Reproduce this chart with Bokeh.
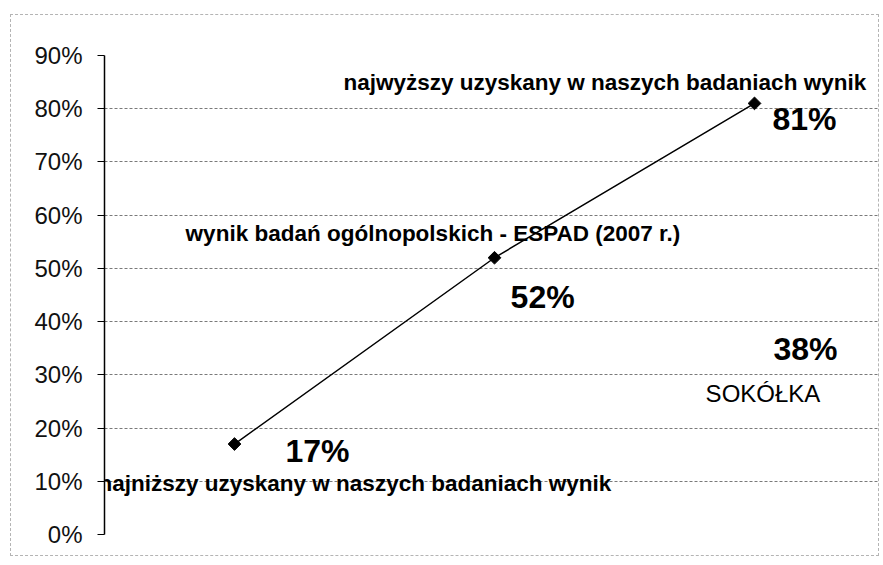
import math
from bokeh.plotting import figure
from bokeh.models import ColumnDataSource, Label, FixedTicker, NumeralTickFormatter, Range1d
from bokeh.embed import file_html
from bokeh.resources import INLINE

# ---- data ----
categories = [1, 2, 3]                 # lowest, national (ESPAD), highest
values = [0.17, 0.52, 0.81]
sokolka_value = 0.38
sokolka_name = "SOKÓŁKA"
y_ticks = [0.0, 0.1, 0.2, 0.3, 0.4, 0.5, 0.6, 0.7, 0.8, 0.9]
notes = [
    "najniższy uzyskany w naszych badaniach wynik",
    "wynik badań ogólnopolskich - ESPAD (2007 r.)",
    "najwyższy uzyskany w naszych badaniach wynik",
]

# ---- layout constants (anchor = left / baseline, data units) ----
note_pos = [(0.477, 0.096), (0.812, 0.566), (1.419, 0.849)]
value_pos = [(1.196, 0.156), (2.062, 0.447), (3.069, 0.780)]
sokolka_value_pos = (3.073, 0.349)
sokolka_name_pos = (2.812, 0.265)

FONT = "Liberation Sans"

p = figure(width=869, height=542, output_backend="svg", toolbar_location=None,
           x_range=Range1d(0.5, 3.4846), y_range=Range1d(0, 0.9),
           min_border_left=93, min_border_right=0, min_border_top=40,
           min_border_bottom=23)
p.margin = (14, 0, 0, 10)
p.styles = {"border": "1px dashed #b4b4b4"}
p.background_fill_color = "white"
p.border_fill_color = "white"
p.outline_line_color = None

p.xaxis.visible = False
p.xgrid.visible = False

p.yaxis.ticker = FixedTicker(ticks=y_ticks)
p.yaxis.formatter = NumeralTickFormatter(format="0%")
p.yaxis.axis_line_color = "black"
p.yaxis.axis_line_width = 1.5
p.yaxis.major_tick_line_color = "black"
p.yaxis.major_tick_in = 0
p.yaxis.major_tick_out = 7
p.yaxis.minor_tick_line_color = None
p.yaxis.major_label_standoff = 15
p.yaxis.major_label_text_font = FONT
p.yaxis.major_label_text_font_size = "24px"
p.yaxis.major_label_text_color = "#111111"

p.ygrid.ticker = FixedTicker(ticks=y_ticks)
p.ygrid.grid_line_color = "#7a7a7a"
p.ygrid.grid_line_dash = "3 2"
p.ygrid.grid_line_width = 1

src = ColumnDataSource(dict(x=categories, y=values))
p.line("x", "y", source=src, line_color="black", line_width=1.5)
p.scatter("x", "y", source=src, marker="square", angle=math.pi / 4,
          size=9, fill_color="black", line_color="black")

for txt, (x, y) in zip(notes, note_pos):
    p.add_layout(Label(x=x, y=y, text=txt, text_font=FONT, text_font_size="22.5px",
                       text_font_style="bold", text_color="black",
                       text_align="left", text_baseline="alphabetic"))

for v, (x, y) in zip(values, value_pos):
    p.add_layout(Label(x=x, y=y, text=f"{round(v * 100)}%", text_font=FONT,
                       text_font_size="32px", text_font_style="bold",
                       text_color="black", text_align="left",
                       text_baseline="alphabetic"))

p.add_layout(Label(x=sokolka_value_pos[0], y=sokolka_value_pos[1],
                   text=f"{round(sokolka_value * 100)}%", text_font=FONT,
                   text_font_size="32px", text_font_style="bold", text_color="black",
                   text_align="left", text_baseline="alphabetic"))
p.add_layout(Label(x=sokolka_name_pos[0], y=sokolka_name_pos[1], text=sokolka_name,
                   text_font=FONT, text_font_size="24px", text_color="black",
                   text_align="left", text_baseline="alphabetic"))

open("out.html", "w").write(file_html(p, INLINE))
